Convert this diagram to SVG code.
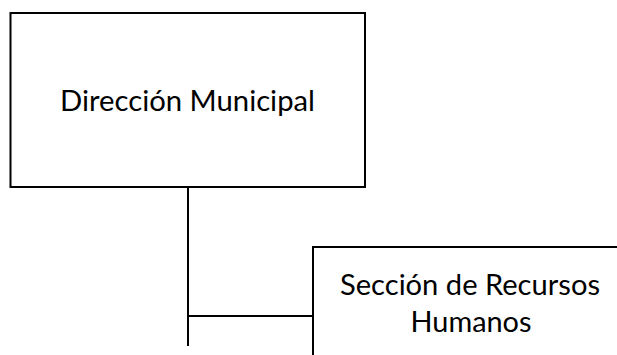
<svg xmlns="http://www.w3.org/2000/svg" width="617" height="355" viewBox="0 0 617 355">
<style>
.box{fill:#fff;stroke:#000;stroke-width:2}
.lbl{font-family:Lato,"Open Sans","Liberation Sans",sans-serif;font-size:28px;fill:#000;text-anchor:middle}
.conn{stroke:#000;stroke-width:2;fill:none}
</style>
<rect width="617" height="355" fill="#fff"/>
<g id="connectors">
<path class="conn" d="M188 187 V346 M188 316 H313"/>
</g>
<g id="direccion">
<rect class="box" x="10.5" y="13" width="354.5" height="174"/>
<text class="lbl" x="187.5" y="111" textLength="255" lengthAdjust="spacingAndGlyphs">Dirección Municipal</text>
</g>
<g id="recursos">
<rect class="box" x="313" y="247" width="320" height="200"/>
<text class="lbl" x="470" y="295" textLength="260" lengthAdjust="spacingAndGlyphs">Sección de Recursos</text>
<text class="lbl" x="471" y="332" textLength="121" lengthAdjust="spacingAndGlyphs">Humanos</text>
</g>
</svg>
